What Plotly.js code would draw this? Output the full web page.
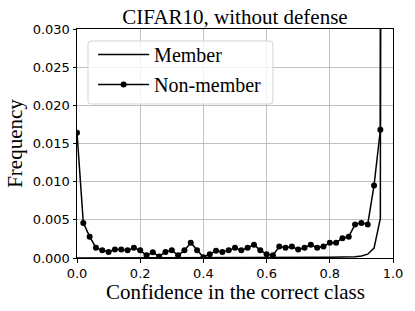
<!DOCTYPE html>
<html>
<head>
<meta charset="utf-8">
<script src="https://cdn.plot.ly/plotly-3.0.1.min.js"></script>
<style>html,body{margin:0;padding:0;background:#fff;}#chart{width:415px;height:311px;}</style>
</head>
<body>
<div id="chart"></div>
<script>
// Bin centres (confidence in the correct class)
const confidence = [0.00,0.02,0.04,0.06,0.08,0.10,0.12,0.14,0.16,0.18,0.20,0.22,0.24,0.26,0.28,0.30,0.32,0.34,0.36,0.38,0.40,0.42,0.44,0.46,0.48,0.50,0.52,0.54,0.56,0.58,0.60,0.62,0.64,0.66,0.68,0.70,0.72,0.74,0.76,0.78,0.80,0.82,0.84,0.86,0.88,0.90,0.92,0.94,0.96,0.98];
// Member frequency
const member = [0,0,0,0,0,0,0,0,0,0,0,0,0,0,0,0,0,0,0,0,0,0.00002,0.00002,0.00002,0.00003,0.00003,0.00003,0.00003,0.00004,0.00004,0.00004,0.00005,0.00005,0.00005,0.00006,0.00006,0.00007,0.00007,0.00008,0.00009,0.0001,0.0001,0.00012,0.00013,0.00015,0.00025,0.0005,0.0013,0.0052,0.98];
// Non-member frequency
const nonMember = [0.0164,0.0046,0.0028,0.00135,0.0010,0.0008,0.0011,0.0011,0.0010,0.00135,0.0010,0.00035,0.00075,0.0002,0.0008,0.0010,0.00035,0.0010,0.0020,0.0010,0.0001,0.0005,0.00095,0.0008,0.0010,0.00135,0.0010,0.00135,0.00175,0.0010,0.0005,0.00035,0.0015,0.00135,0.0015,0.0011,0.00135,0.00175,0.00135,0.0015,0.0020,0.0020,0.0026,0.0028,0.0044,0.0046,0.0044,0.0095,0.0168,0.90];

const xTicks = [0.0,0.2,0.4,0.6,0.8,1.0];
const xTickText = ['0.0','0.2','0.4','0.6','0.8','1.0'];
const yTicks = [0,0.005,0.010,0.015,0.020,0.025,0.030];
const yTickText = ['0.000','0.005','0.010','0.015','0.020','0.025','0.030'];
const xTitle = 'Confidence in the correct class';
const yTitle = 'Frequency';
const chartTitle = 'CIFAR10, without defense';

const serif = 'Liberation Serif, Times New Roman, serif';
const sans = 'DejaVu Sans, sans-serif';

const traces = [
  {x: confidence, y: member, name: 'Member', type: 'scatter', mode: 'lines', legendgroup: 'a',
   line: {color: '#000', width: 1.5}},
  {x: confidence, y: nonMember, name: 'Non-member', type: 'scatter', mode: 'lines+markers', legendgroup: 'b',
   line: {color: '#000', width: 1.5}, marker: {color: '#000', size: 6}}
];

// legend frame (pixel-ish rounded rectangle in paper units)
const L = 0.0348, R = 0.620, T = 0.9476, B = 0.6725, rx = 3/316, ry = 3/229;
const boxPath = `M${L+rx},${T} L${R-rx},${T} Q${R},${T} ${R},${T-ry} L${R},${B+ry} Q${R},${B} ${R-rx},${B} L${L+rx},${B} Q${L},${B} ${L},${B+ry} L${L},${T-ry} Q${L},${T} ${L+rx},${T} Z`;

const layout = {
  width: 415, height: 311,
  margin: {l: 77, r: 22, t: 29, b: 53},
  paper_bgcolor: '#fff', plot_bgcolor: '#fff',
  title: {text: chartTitle, font: {family: serif, size: 21, color: '#000'},
          x: 0.5, xref: 'paper', xanchor: 'center', y: 0.948, yref: 'container', yanchor: 'middle'},
  xaxis: {range: [0, 1.0], tickvals: xTicks, ticktext: xTickText,
          showgrid: true, gridcolor: '#b0b0b0', gridwidth: 0.8,
          showline: true, linecolor: '#000', linewidth: 1, mirror: true,
          ticks: 'outside', ticklen: 3.5, tickcolor: '#000',
          tickfont: {family: sans, size: 13, color: '#000'}, zeroline: false},
  yaxis: {range: [0, 0.030], tickvals: yTicks, ticktext: yTickText,
          showgrid: true, gridcolor: '#b0b0b0', gridwidth: 0.8,
          showline: true, linecolor: '#000', linewidth: 1, mirror: true,
          ticks: 'outside', ticklen: 3.5, tickcolor: '#000',
          tickfont: {family: sans, size: 13, color: '#000'}, zeroline: false,
          title: {text: yTitle, font: {family: serif, size: 21, color: '#000'}, standoff: 4}},
  annotations: [{text: xTitle, xref: 'paper', yref: 'paper', x: 0.5, y: -0.147,
                 xanchor: 'center', yanchor: 'middle', showarrow: false, borderpad: 0,
                 font: {family: serif, size: 21, color: '#000'}}],
  shapes: [{type: 'path', xref: 'paper', yref: 'paper', path: boxPath,
            line: {color: '#d5d5d5', width: 1}, fillcolor: 'rgba(255,255,255,0.8)', layer: 'above'}],
  showlegend: true,
  legend: {x: 0.051, y: 0.974, xanchor: 'left', yanchor: 'top',
           bgcolor: 'rgba(0,0,0,0)', borderwidth: 0, itemwidth: 51,
           font: {family: serif, size: 20, color: '#000'}, tracegroupgap: 1}
};

Plotly.newPlot('chart', traces, layout, {staticPlot: true, displayModeBar: false});
</script>
</body>
</html>
